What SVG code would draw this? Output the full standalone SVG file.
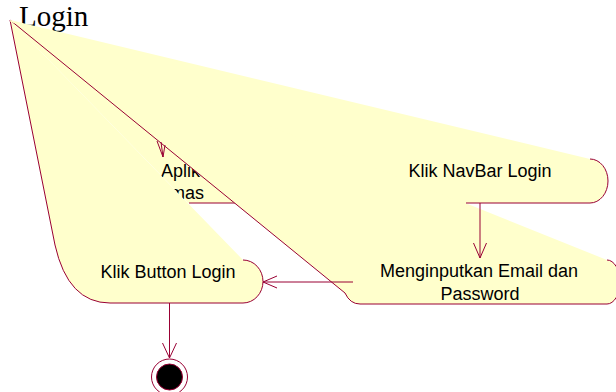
<svg xmlns="http://www.w3.org/2000/svg" width="616" height="392" viewBox="0 0 616 392">
  <style>
    .fill { fill: #FFFFCC; stroke: none; }
    .edge { fill: none; stroke: #990033; stroke-width: 1; }
    .lbl { font-family: "Liberation Sans", Arial, sans-serif; font-size: 18px; fill: #000; }
    .mid { text-anchor: middle; }
    .title { font-family: "Liberation Serif", "Times New Roman", serif; font-size: 29px; fill: #000; }
  </style>

  <text class="title" x="19" y="26">Login</text>

  <!-- activity: Aplikasi (mostly hidden beneath the later shapes) -->
  <g id="node-aplikasi">
    <path class="fill" d="M10 20 L262 157 L262 203 L188 203 Z"/>
    <text class="lbl" x="161" y="177">Aplik</text>
    <text class="lbl" x="170" y="199">mas</text>
    <path class="edge" d="M189 203 H250"/>
  </g>

  <!-- activity: Klik Button Login -->
  <g id="node-klik-button">
    <path class="fill" d="M10 20 L243 260 A20 21.5 0 0 1 243 303 L110 303 Q68 303 55 245 Z"/>
    <path class="edge" d="M243 260 A20 21.5 0 0 1 243 303 L110 303 Q68 303 55 245 L10 20"/>
    <text class="lbl mid" x="168" y="278">Klik Button Login</text>
  </g>

  <!-- activity: Menginputkan Email dan Password -->
  <g id="node-input">
    <path class="fill" d="M10 20 L607 260 A13 22 0 0 1 607 304 L360 304 Q350 304 345 293 Z"/>
    <path class="edge" d="M607 260 A13 22 0 0 1 607 304 L360 304 Q350 304 345 293 L10 20"/>
    <text class="lbl mid" x="479" y="277">Menginputkan Email dan</text>
    <text class="lbl mid" x="480" y="300">Password</text>
  </g>

  <!-- activity: Klik NavBar Login -->
  <g id="node-navbar">
    <path class="fill" d="M10 20 L590 159 A18 22 0 0 1 590 203 L466 203 L466 204.5 L10 21.5 Z"/>
    <path class="edge" d="M590 159 A18 22 0 0 1 590 203 L466 203"/>
    <text class="lbl mid" x="480" y="177">Klik NavBar Login</text>
  </g>

  <!-- final state -->
  <g id="node-end">
    <circle cx="169.5" cy="377" r="18" fill="#FFFFFF" stroke="#990033" stroke-width="1"/>
    <circle cx="169.5" cy="377" r="13" fill="#000000" stroke="#990033" stroke-width="1"/>
  </g>

  <!-- transitions -->
  <g id="connectors" class="edge">
    <path d="M157 141 L163 157 L165 145 M161 142 L163 157"/>
    <path d="M480 203 V258 M473.5 243 L480 258 L486.5 243"/>
    <path d="M353 282 H263 M277 276 L263 282 L277 288"/>
    <path d="M169.5 303 V358 M162.5 343 L169.5 358 L176.5 343"/>
  </g>
</svg>
